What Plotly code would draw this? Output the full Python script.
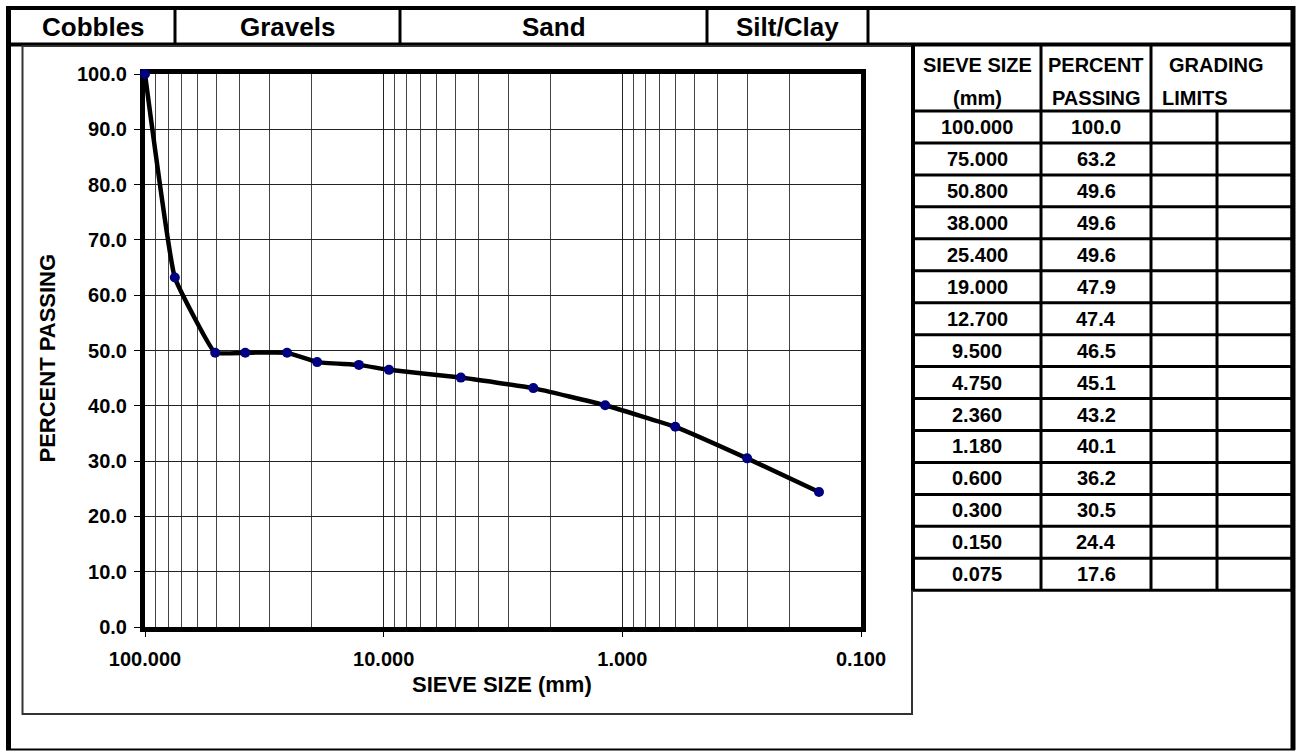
import plotly.graph_objects as go

# ---------------- data ----------------
sieve_sizes = [100.000, 75.000, 50.800, 38.000, 25.400, 19.000, 12.700, 9.500,
               4.750, 2.360, 1.180, 0.600, 0.300, 0.150, 0.075]
sieve_labels = ["100.000", "75.000", "50.800", "38.000", "25.400", "19.000", "12.700",
                "9.500", "4.750", "2.360", "1.180", "0.600", "0.300", "0.150", "0.075"]
percent_passing = [100.0, 63.2, 49.6, 49.6, 49.6, 47.9, 47.4, 46.5,
                   45.1, 43.2, 40.1, 36.2, 30.5, 24.4, 17.6]
soil_classes = ["Cobbles", "Gravels", "Sand", "Silt/Clay"]
x_tick_vals = [100, 10, 1, 0.1]
x_tick_text = ["100.000", "10.000", "1.000", "0.100"]
table_head_1 = ["SIEVE SIZE", "PERCENT", "GRADING"]
table_head_2 = ["(mm)", "PASSING", "LIMITS"]

# ---------------- geometry helpers ----------------
W, H = 1299, 751
def px(x):
    return x / W
def py(y):
    return 1 - y / H

FONT = "Arial, Liberation Sans, Helvetica, sans-serif"
X_MIN = 0.1
plot_x = [s for s in sieve_sizes if s >= X_MIN]
plot_y = [p for s, p in zip(sieve_sizes, percent_passing) if s >= X_MIN]

# minor gridlines of the log axis (2..9 in each decade)
minor_vals = [m * d for d in (0.1, 1, 10) for m in range(2, 10)]

fig = go.Figure()
fig.add_trace(go.Scatter(
    x=plot_x, y=plot_y, mode="lines+markers",
    line=dict(color="black", width=4.5, shape="spline", smoothing=0.3),
    marker=dict(color="#000080", size=10),
    cliponaxis=False, showlegend=False, hoverinfo="x+y"))

PX0, PX1, PY0, PY1 = 145, 861, 74, 627

fig.update_layout(
    template="none",
    width=W, height=H, autosize=False,
    margin=dict(l=0, r=0, t=0, b=0, pad=0, autoexpand=False),
    paper_bgcolor="white", plot_bgcolor="white",
    font=dict(family=FONT, color="black"),
    xaxis=dict(
        type="log", range=[2, -1], domain=[px(PX0), px(PX1)], automargin=False,
        tickvals=x_tick_vals, ticktext=x_tick_text,
        tickfont=dict(size=20, family=FONT, weight="bold"),
        ticks="outside", ticklen=5, tickwidth=1, tickcolor="black",
        ticklabelstandoff=5,
        showgrid=True, gridcolor="#222", gridwidth=1,
        minor=dict(tickvals=minor_vals, showgrid=True, gridcolor="#444", gridwidth=1, ticks=""),
        showline=True, linewidth=5, linecolor="black", mirror=True,
        zeroline=False, fixedrange=True, layer="below traces",
    ),
    yaxis=dict(
        range=[0, 100], domain=[py(PY1), py(PY0)], automargin=False,
        dtick=10, tickformat=".1f",
        tickfont=dict(size=20, family=FONT, weight="bold"),
        ticks="outside", ticklen=6, tickwidth=1, tickcolor="black",
        ticklabelstandoff=3,
        showgrid=True, gridcolor="#222", gridwidth=1,
        showline=True, linewidth=5, linecolor="black", mirror=True,
        zeroline=False, fixedrange=True, layer="below traces",
    ),
)

shapes = []
annotations = []

def hline(x0, x1, y, w=2, c="black"):
    shapes.append(dict(type="line", xref="paper", yref="paper",
                       x0=px(x0), x1=px(x1), y0=py(y), y1=py(y),
                       line=dict(color=c, width=w)))

def vline(x, y0, y1, w=2, c="black"):
    shapes.append(dict(type="line", xref="paper", yref="paper",
                       x0=px(x), x1=px(x), y0=py(y0), y1=py(y1),
                       line=dict(color=c, width=w)))

def text(x, y, s, size=15, xanchor="center", angle=0):
    annotations.append(dict(xref="paper", yref="paper", x=px(x), y=py(y), text=s,
                            showarrow=False, xanchor=xanchor, yanchor="middle",
                            textangle=angle,
                            font=dict(size=size, family=FONT, color="black", weight="bold")))

# outer frame
vline(8.5, 6, 750, w=5)
hline(6, 1295, 8, w=4)
vline(1293, 6, 750, w=5)
hline(6, 1295, 749.5, w=2)

# header row
hline(8, 1293, 44.5, w=4)
head_edges = [11, 175, 400, 707, 868]
for e in head_edges[1:]:
    vline(e, 8, 44, w=3)
for i, name in enumerate(soil_classes):
    text((head_edges[i] + head_edges[i + 1]) / 2, 27, name, size=26)

# chart box
shapes.append(dict(type="rect", xref="paper", yref="paper",
                   x0=px(22.5), x1=px(912), y0=py(714), y1=py(46),
                   line=dict(color="#333", width=2)))

# axis titles
text(47, (PY0 + PY1) / 2 + 8, "PERCENT PASSING", size=22, angle=-90)
text(502, 684, "SIEVE SIZE (mm)", size=22)

# table
col_edges = [913, 1041, 1151, 1217, 1292]
head_bot, row_h = 111, 31.95
n_rows = len(sieve_sizes)
tab_bot = head_bot + row_h * n_rows
for e in [col_edges[0], col_edges[1], col_edges[2], col_edges[4]]:
    vline(e, 45, tab_bot, w=4 if e == col_edges[0] else 3)
vline(col_edges[3], head_bot, tab_bot, w=3)
for i in range(n_rows + 1):
    hline(col_edges[0], col_edges[4], head_bot + row_h * i, w=3)

# table header text
TS = 20
text((col_edges[0] + col_edges[1]) / 2, 65, table_head_1[0], size=TS)
text((col_edges[0] + col_edges[1]) / 2, 98, table_head_2[0], size=TS)
text((col_edges[1] + col_edges[2]) / 2, 65, table_head_1[1], size=TS)
text((col_edges[1] + col_edges[2]) / 2, 98, table_head_2[1], size=TS)
text(1216, 65, table_head_1[2], size=TS)
text(1160, 98, table_head_2[2], size=TS, xanchor="left")

for i in range(n_rows):
    yc = head_bot + row_h * (i + 0.5)
    text((col_edges[0] + col_edges[1]) / 2, yc, sieve_labels[i], size=TS)
    text((col_edges[1] + col_edges[2]) / 2, yc, f"{percent_passing[i]:.1f}", size=TS)

fig.update_layout(shapes=shapes, annotations=annotations)
fig.write_html("out.html", config={"displayModeBar": False},
               post_script="document.body.style.margin='0';document.body.style.overflow='hidden';")
